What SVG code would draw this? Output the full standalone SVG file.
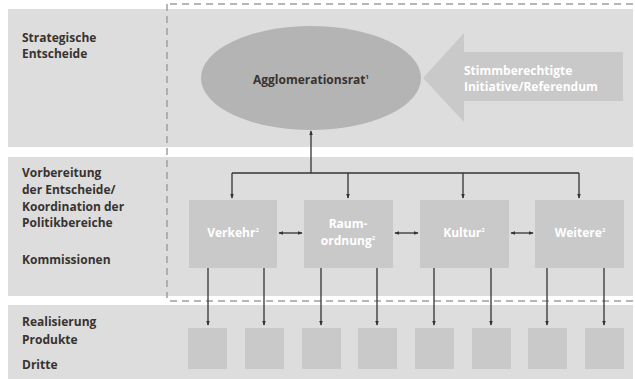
<svg xmlns="http://www.w3.org/2000/svg" width="635" height="379" viewBox="0 0 635 379">
<defs>
<marker id="ah" viewBox="0 0 8 8" refX="7" refY="4" markerWidth="5" markerHeight="5" orient="auto-start-reverse" markerUnits="userSpaceOnUse">
<path d="M0,1 L8,4 L0,7 Z" fill="#333"/>
</marker>
<style>
.band{fill:#dddddd}
.lbl{font-family:"Open Sans","Liberation Sans",sans-serif;font-weight:bold;font-size:12px;fill:#38332f}
.box{fill:#c9c9c9}
.wt{font-family:"Open Sans","Liberation Sans",sans-serif;font-weight:bold;font-size:12px;fill:#ffffff;text-anchor:middle}
.ln{stroke:#333;stroke-width:1.3;fill:none}
.dash{stroke:#a0a0a0;stroke-width:1.5;stroke-dasharray:7,5;fill:none}
</style>
</defs>
<rect width="635" height="379" fill="#ffffff"/>
<g id="bands">
<rect class="band" x="8" y="9" width="625" height="138"/>
<rect class="band" x="8" y="157" width="625" height="139"/>
<rect class="band" x="8" y="305" width="625" height="74"/>
</g>
<g id="dashframe">
<path class="dash" d="M170,4 H635"/>
<path class="dash" d="M167,4 V298"/>
<path class="dash" d="M170,301 H635"/>
</g>
<g id="labels">
<text class="lbl" x="22" y="42">Strategische</text>
<text class="lbl" x="22" y="58">Entscheide</text>
<text class="lbl" x="22" y="177">Vorbereitung</text>
<text class="lbl" x="22" y="194">der Entscheide/</text>
<text class="lbl" x="22" y="211">Koordination der</text>
<text class="lbl" x="22" y="227">Politikbereiche</text>
<text class="lbl" x="22" y="264">Kommissionen</text>
<text class="lbl" x="22" y="326">Realisierung</text>
<text class="lbl" x="22" y="344">Produkte</text>
<text class="lbl" x="22" y="369">Dritte</text>
</g>
<g id="agglomerationsrat">
<ellipse cx="311" cy="78" rx="110" ry="52" fill="#b4b4b4"/>
<text class="lbl" x="311" y="84" text-anchor="middle" font-size="12.5">Agglomerationsrat<tspan font-size="6" dy="-5">1</tspan></text>
</g>
<g id="stimmberechtigte">
<path d="M423,78 L464,33 L464,52 L623,52 L623,101 L464,101 L464,122 Z" fill="#c9c9c9"/>
<text class="wt" x="464" y="75" style="text-anchor:start">Stimmberechtigte</text>
<text class="wt" x="464" y="91" style="text-anchor:start">Initiative/Referendum</text>
</g>
<g id="verkehr">
<rect class="box" x="189" y="200" width="88" height="68"/>
<text class="wt" x="233" y="237">Verkehr<tspan font-size="6" dy="-5">2</tspan></text>
</g>
<g id="raumordnung">
<rect class="box" x="304" y="200" width="89" height="68"/>
<text class="wt" x="348" y="228">Raum-</text>
<text class="wt" x="348" y="245">ordnung<tspan font-size="6" dy="-5">2</tspan></text>
</g>
<g id="kultur">
<rect class="box" x="420" y="200" width="89" height="68"/>
<text class="wt" x="464" y="237">Kultur<tspan font-size="6" dy="-5">2</tspan></text>
</g>
<g id="weitere">
<rect class="box" x="535" y="200" width="89" height="68"/>
<text class="wt" x="580" y="237">Weitere<tspan font-size="6" dy="-5">2</tspan></text>
</g>
<g id="produkte">
<rect class="box" x="188" y="328" width="39" height="41"/>
<rect class="box" x="245" y="328" width="39" height="41"/>
<rect class="box" x="302" y="328" width="39" height="41"/>
<rect class="box" x="358" y="328" width="39" height="41"/>
<rect class="box" x="415" y="328" width="39" height="41"/>
<rect class="box" x="472" y="328" width="39" height="41"/>
<rect class="box" x="528" y="328" width="39" height="41"/>
<rect class="box" x="585" y="328" width="39" height="41"/>
</g>
<g id="connectors">
<path class="ln" d="M311,173 V131" marker-end="url(#ah)"/>
<path class="ln" d="M232,173 H579"/>
<path class="ln" d="M232,173 V198" marker-end="url(#ah)"/>
<path class="ln" d="M348,173 V198" marker-end="url(#ah)"/>
<path class="ln" d="M463,173 V198" marker-end="url(#ah)"/>
<path class="ln" d="M579,173 V198" marker-end="url(#ah)"/>
<path class="ln" d="M279,233 H302" marker-start="url(#ah)" marker-end="url(#ah)"/>
<path class="ln" d="M395,233 H418" marker-start="url(#ah)" marker-end="url(#ah)"/>
<path class="ln" d="M511,233 H533" marker-start="url(#ah)" marker-end="url(#ah)"/>
<path class="ln" d="M208,268 V325" marker-end="url(#ah)"/>
<path class="ln" d="M264,268 V325" marker-end="url(#ah)"/>
<path class="ln" d="M321,268 V325" marker-end="url(#ah)"/>
<path class="ln" d="M377,268 V325" marker-end="url(#ah)"/>
<path class="ln" d="M434,268 V325" marker-end="url(#ah)"/>
<path class="ln" d="M491,268 V325" marker-end="url(#ah)"/>
<path class="ln" d="M547,268 V325" marker-end="url(#ah)"/>
<path class="ln" d="M604,268 V325" marker-end="url(#ah)"/>
</g>
</svg>
